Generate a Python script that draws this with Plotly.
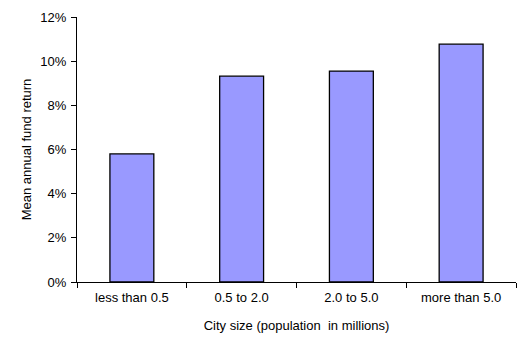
import plotly.graph_objects as go

categories = ["less than 0.5", "0.5 to 2.0", "2.0 to 5.0", "more than 5.0"]
returns = [0.058, 0.0932, 0.0955, 0.1077]
y_ticks = [0, 0.02, 0.04, 0.06, 0.08, 0.10, 0.12]
y_tick_labels = ["0%", "2%", "4%", "6%", "8%", "10%", "12%"]

fig = go.Figure(go.Bar(
    x=categories, y=returns, width=0.4,
    marker=dict(color="#9999FF", line=dict(color="black", width=1.3)),
))

font = dict(family="Liberation Sans, Arial, sans-serif", size=13, color="black")
fig.update_layout(
    width=521, height=352,
    margin=dict(l=77, r=5, t=17, b=70),
    paper_bgcolor="white", plot_bgcolor="white",
    font=font, showlegend=False, bargap=0.6,
    xaxis=dict(
        type="category", showline=True, linecolor="black", linewidth=1,
        ticks="outside", ticklen=5, tickcolor="black", tickson="boundaries",
        showgrid=False, range=[-0.5, 3.5], ticklabelstandoff=3,
        title=dict(text="City size (population  in millions)", standoff=17, font=font),
    ),
    yaxis=dict(
        range=[0, 0.12], tickvals=y_ticks, ticktext=y_tick_labels,
        showline=True, linecolor="black", linewidth=1,
        ticks="outside", ticklen=5, tickcolor="black", ticklabelstandoff=2,
        showgrid=False, zeroline=False,
        title=dict(text="Mean annual fund return", standoff=5, font=font),
    ),
)
fig.write_html("out.html")
